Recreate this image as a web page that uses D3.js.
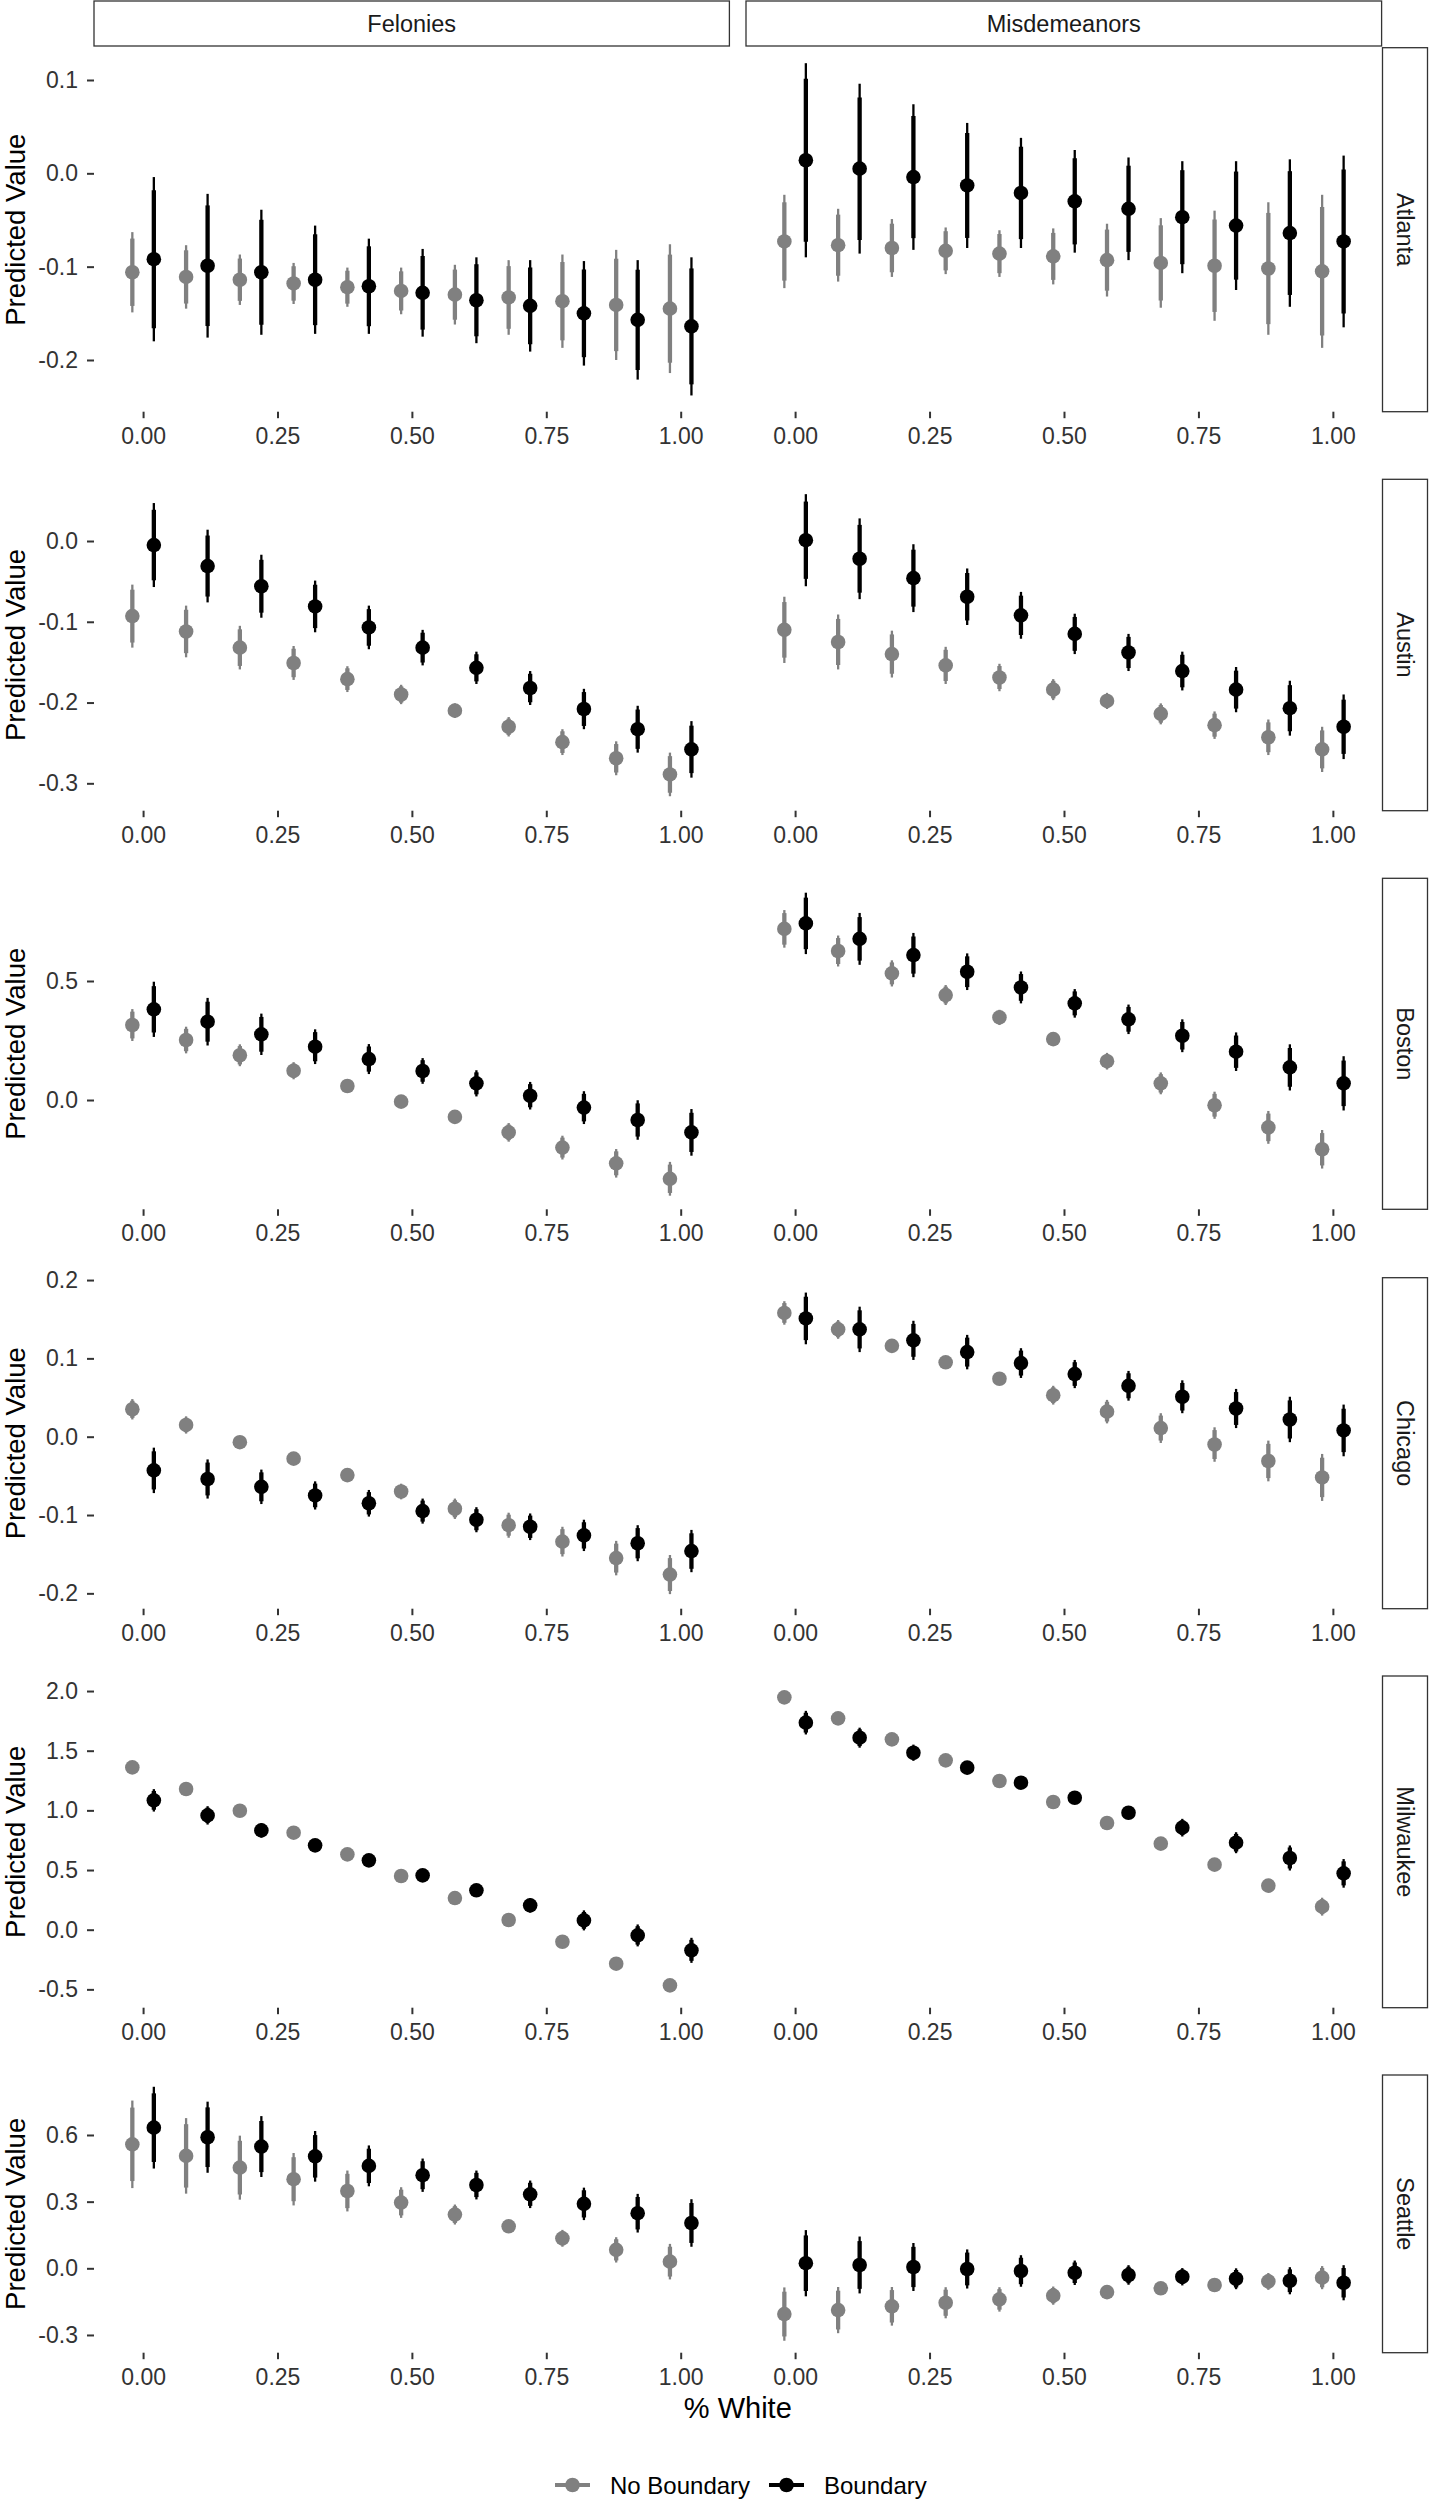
<!DOCTYPE html>
<html>
<head>
<meta charset="utf-8">
<script src="https://cdn.jsdelivr.net/npm/d3@7"></script>
<style>
  body { margin: 0; background: #fff; }
</style>
</head>
<body>
<svg id="chart"></svg>
<script>
// kategorije
const cities = ["Atlanta", "Austin", "Boston", "Chicago", "Milwaukee", "Seattle"];
const crimeTypes = ["Felonies", "Misdemeanors"];
const groups = ["No Boundary", "Boundary"];
const pctWhite = [0, 0.1, 0.2, 0.3, 0.4, 0.5, 0.6, 0.7, 0.8, 0.9, 1.0];
const xTicks = [0, 0.25, 0.5, 0.75, 1];

// y tick vrednosti po gradu
const atlTicks = [-0.2, -0.1, 0.0, 0.1];
const ausTicks = [-0.3, -0.2, -0.1, 0.0];
const bosTicks = [0.0, 0.5];
const chiTicks = [-0.2, -0.1, 0.0, 0.1, 0.2];
const milTicks = [-0.5, 0.0, 0.5, 1.0, 1.5, 2.0];
const seaTicks = [-0.3, 0.0, 0.3, 0.6];

// [estimate, 95% half-width]
const atlFelNo = [[-0.106,0.043],[-0.111,0.034],[-0.114,0.027],[-0.118,0.022],[-0.122,0.021],[-0.126,0.025],[-0.130,0.032],[-0.133,0.040],[-0.137,0.050],[-0.141,0.059],[-0.145,0.069]];
const atlFelBd = [[-0.092,0.088],[-0.099,0.077],[-0.106,0.067],[-0.114,0.058],[-0.121,0.051],[-0.128,0.047],[-0.136,0.046],[-0.142,0.049],[-0.150,0.056],[-0.157,0.064],[-0.164,0.074]];
const atlMisNo = [[-0.073,0.050],[-0.077,0.039],[-0.080,0.031],[-0.083,0.025],[-0.086,0.025],[-0.089,0.030],[-0.093,0.039],[-0.096,0.048],[-0.099,0.059],[-0.102,0.071],[-0.105,0.082]];
const atlMisBd = [[0.014,0.104],[0.005,0.091],[-0.004,0.078],[-0.013,0.067],[-0.021,0.059],[-0.030,0.055],[-0.038,0.055],[-0.047,0.060],[-0.056,0.069],[-0.064,0.079],[-0.073,0.092]];

const ausFelNo = [[-0.093,0.039],[-0.112,0.032],[-0.132,0.027],[-0.151,0.021],[-0.171,0.016],[-0.190,0.012],[-0.210,0.009],[-0.230,0.012],[-0.249,0.016],[-0.269,0.021],[-0.289,0.027]];
const ausFelBd = [[-0.005,0.052],[-0.031,0.045],[-0.056,0.039],[-0.081,0.032],[-0.107,0.027],[-0.132,0.022],[-0.157,0.020],[-0.182,0.021],[-0.208,0.025],[-0.233,0.029],[-0.258,0.035]];
const ausMisNo = [[-0.110,0.041],[-0.125,0.034],[-0.140,0.029],[-0.154,0.023],[-0.169,0.017],[-0.184,0.013],[-0.198,0.010],[-0.214,0.013],[-0.228,0.017],[-0.243,0.022],[-0.258,0.028]];
const ausMisBd = [[0.001,0.057],[-0.022,0.050],[-0.046,0.042],[-0.069,0.035],[-0.092,0.029],[-0.115,0.025],[-0.138,0.023],[-0.161,0.024],[-0.184,0.028],[-0.207,0.034],[-0.230,0.040]];

const bosFelNo = [[0.315,0.067],[0.252,0.056],[0.188,0.046],[0.123,0.036],[0.059,0.012],[-0.007,0.010],[-0.071,0.026],[-0.136,0.039],[-0.200,0.050],[-0.266,0.060],[-0.331,0.071]];
const bosFelBd = [[0.381,0.116],[0.329,0.100],[0.276,0.087],[0.224,0.073],[0.172,0.063],[0.122,0.054],[0.070,0.055],[0.018,0.058],[-0.032,0.069],[-0.084,0.083],[-0.136,0.098]];
const bosMisNo = [[0.719,0.079],[0.626,0.065],[0.532,0.055],[0.441,0.042],[0.347,0.032],[0.256,0.012],[0.163,0.035],[0.070,0.046],[-0.022,0.057],[-0.115,0.069],[-0.207,0.081]];
const bosMisBd = [[0.742,0.129],[0.677,0.109],[0.609,0.093],[0.539,0.077],[0.473,0.067],[0.406,0.060],[0.339,0.062],[0.270,0.069],[0.203,0.081],[0.137,0.097],[0.070,0.114]];

const chiFelNo = [[0.035,0.013],[0.015,0.011],[-0.007,0.007],[-0.028,0.007],[-0.049,0.007],[-0.070,0.010],[-0.092,0.013],[-0.113,0.016],[-0.134,0.019],[-0.155,0.022],[-0.176,0.025]];
const chiFelBd = [[-0.043,0.029],[-0.054,0.025],[-0.064,0.022],[-0.075,0.018],[-0.085,0.017],[-0.095,0.016],[-0.106,0.016],[-0.115,0.017],[-0.126,0.020],[-0.136,0.023],[-0.146,0.027]];
const chiMisNo = [[0.158,0.015],[0.137,0.012],[0.116,0.008],[0.095,0.007],[0.074,0.008],[0.053,0.012],[0.032,0.015],[0.011,0.019],[-0.010,0.022],[-0.031,0.026],[-0.052,0.030]];
const chiMisBd = [[0.151,0.033],[0.137,0.029],[0.123,0.025],[0.108,0.022],[0.094,0.019],[0.080,0.018],[0.065,0.019],[0.051,0.021],[0.036,0.025],[0.022,0.029],[0.008,0.033]];

const milFelNo = [[1.360,0.025],[1.179,0.022],[0.997,0.020],[0.813,0.018],[0.631,0.018],[0.450,0.018],[0.265,0.018],[0.081,0.020],[-0.101,0.022],[-0.285,0.025],[-0.467,0.028]];
const milFelBd = [[1.084,0.094],[0.958,0.077],[0.832,0.060],[0.707,0.050],[0.581,0.048],[0.455,0.048],[0.330,0.052],[0.204,0.060],[0.078,0.084],[-0.048,0.092],[-0.173,0.105]];
const milMisNo = [[1.947,0.030],[1.771,0.026],[1.595,0.024],[1.419,0.022],[1.246,0.022],[1.070,0.022],[0.894,0.024],[0.721,0.028],[0.545,0.034],[0.369,0.045],[0.193,0.075]];
const milMisBd = [[1.735,0.099],[1.609,0.084],[1.483,0.068],[1.358,0.055],[1.232,0.050],[1.106,0.050],[0.980,0.054],[0.855,0.074],[0.729,0.088],[0.601,0.105],[0.472,0.120]];

const seaFelNo = [[0.558,0.197],[0.506,0.170],[0.453,0.144],[0.401,0.118],[0.348,0.092],[0.296,0.069],[0.242,0.045],[0.189,0.022],[0.135,0.038],[0.083,0.057],[0.030,0.080]];
const seaFelBd = [[0.633,0.184],[0.590,0.160],[0.548,0.137],[0.504,0.114],[0.461,0.092],[0.419,0.075],[0.375,0.065],[0.333,0.062],[0.290,0.073],[0.248,0.087],[0.204,0.107]];
const seaMisNo = [[-0.206,0.120],[-0.188,0.104],[-0.171,0.087],[-0.155,0.070],[-0.140,0.055],[-0.123,0.041],[-0.107,0.020],[-0.090,0.020],[-0.075,0.020],[-0.059,0.038],[-0.042,0.052]];
const seaMisBd = [[0.023,0.149],[0.015,0.128],[0.006,0.108],[-0.003,0.088],[-0.012,0.071],[-0.020,0.055],[-0.030,0.044],[-0.038,0.039],[-0.047,0.047],[-0.056,0.061],[-0.065,0.079]];

// po redovima: [felonies [no, bd], misdemeanors [no, bd]]
const rowSeries = [
  [[atlFelNo, atlFelBd], [atlMisNo, atlMisBd]],
  [[ausFelNo, ausFelBd], [ausMisNo, ausMisBd]],
  [[bosFelNo, bosFelBd], [bosMisNo, bosMisBd]],
  [[chiFelNo, chiFelBd], [chiMisNo, chiMisBd]],
  [[milFelNo, milFelBd], [milMisNo, milMisBd]],
  [[seaFelNo, seaFelBd], [seaMisNo, seaMisBd]]
];
const rowTicks = [atlTicks, ausTicks, bosTicks, chiTicks, milTicks, seaTicks];

// raspored panela
var width = 1429, height = 2500;
var colX = [[94, 729.4], [746, 1381.6]];
var rowTop = [47.7, 479.3, 878.3, 1277.7, 1676, 2075];
var rowBottom = [411.7, 810.7, 1209.3, 1608.7, 2007.7, 2352.7];
var rowDomain = [[-0.2554, 0.1346], [-0.3339, 0.0764], [-0.4592, 0.9315],
                 [-0.2196, 0.2030], [-0.6537, 2.126], [-0.3798, 0.870]];
var xDomain = [-0.0913, 1.0906];
var dodge = 0.02;
var colors = ["#808080", "#000000"];
var innerRatio = 1.645 / 1.96; // 90% interval inside the 95% one
var font = "'Liberation Sans', Arial, sans-serif";
var textCol = "#333333";

var svg = d3.select("#chart")
    .attr("width", width)
    .attr("height", height)
    .style("font-family", font);

svg.append("rect").attr("width", width).attr("height", height).attr("fill", "#fff");

// gornji stripovi
crimeTypes.forEach(function(t, c) {
  svg.append("rect")
      .attr("x", colX[c][0]).attr("y", 1)
      .attr("width", colX[c][1] - colX[c][0]).attr("height", 45)
      .attr("fill", "#fff").attr("stroke", "#333").attr("stroke-width", 1.3);
  svg.append("text")
      .attr("x", (colX[c][0] + colX[c][1]) / 2).attr("y", 23.5)
      .attr("dy", "0.36em")
      .attr("text-anchor", "middle")
      .attr("font-size", 23.5)
      .attr("fill", "#1a1a1a")
      .text(t);
});

cities.forEach(function(city, r) {
  var y = d3.scaleLinear().domain(rowDomain[r]).range([rowBottom[r], rowTop[r]]);

  // y osa
  var yAxis = svg.append("g")
      .attr("transform", "translate(" + colX[0][0] + ",0)")
      .call(d3.axisLeft(y).tickValues(rowTicks[r]).tickSize(7).tickPadding(9)
        .tickFormat(function(d) { return d.toFixed(1); }));
  yAxis.select(".domain").remove();
  yAxis.selectAll("line").attr("stroke", textCol).attr("stroke-width", 2);
  yAxis.selectAll("text").attr("font-size", 23).attr("font-family", font).attr("fill", textCol);

  svg.append("text")
      .attr("transform", "translate(25," + (rowTop[r] + rowBottom[r]) / 2 + ") rotate(-90)")
      .attr("text-anchor", "middle")
      .attr("font-size", 27.5)
      .attr("fill", "#000")
      .text("Predicted Value");

  crimeTypes.forEach(function(t, c) {
    var x = d3.scaleLinear().domain(xDomain).range(colX[c]);

    var xAxis = svg.append("g")
        .attr("transform", "translate(0," + rowBottom[r] + ")")
        .call(d3.axisBottom(x).tickValues(xTicks).tickSize(6.5).tickPadding(9.2)
          .tickFormat(function(d) { return d.toFixed(2); }));
    xAxis.select(".domain").remove();
    xAxis.selectAll("line").attr("stroke", textCol).attr("stroke-width", 2);
    xAxis.selectAll("text").attr("font-size", 23).attr("font-family", font).attr("fill", textCol);

    var panel = svg.append("g").attr("class", "panel");

    groups.forEach(function(gName, gi) {
      var vals = rowSeries[r][c][gi];
      var off = gi === 0 ? -dodge : dodge;
      var grp = panel.append("g").attr("class", "series");
      var pts = grp.selectAll(".pt")
          .data(vals.map(function(v, i) { return { x: pctWhite[i] + off, est: v[0], hw: v[1] }; }))
          .enter().append("g").attr("class", "pt");

      pts.append("line")
          .attr("x1", function(d) { return x(d.x); })
          .attr("x2", function(d) { return x(d.x); })
          .attr("y1", function(d) { return y(d.est - d.hw); })
          .attr("y2", function(d) { return y(d.est + d.hw); })
          .attr("stroke", colors[gi]).attr("stroke-width", 2.3);

      pts.append("line")
          .attr("x1", function(d) { return x(d.x); })
          .attr("x2", function(d) { return x(d.x); })
          .attr("y1", function(d) { return y(d.est - d.hw * innerRatio); })
          .attr("y2", function(d) { return y(d.est + d.hw * innerRatio); })
          .attr("stroke", colors[gi]).attr("stroke-width", 4.3);

      pts.append("circle")
          .attr("cx", function(d) { return x(d.x); })
          .attr("cy", function(d) { return y(d.est); })
          .attr("r", 7.3)
          .attr("fill", colors[gi]);
    });
  });

  // desni strip sa imenom grada
  svg.append("rect")
      .attr("x", 1382.5).attr("y", rowTop[r])
      .attr("width", 45).attr("height", rowBottom[r] - rowTop[r])
      .attr("fill", "#fff").attr("stroke", "#333").attr("stroke-width", 1.3);
  svg.append("text")
      .attr("transform", "translate(1405," + (rowTop[r] + rowBottom[r]) / 2 + ") rotate(90)")
      .attr("dy", "0.36em")
      .attr("text-anchor", "middle")
      .attr("font-size", 23.5)
      .attr("fill", "#1a1a1a")
      .text(city);
});

// naslov x ose
svg.append("text")
    .attr("x", (colX[0][0] + colX[1][1]) / 2).attr("y", 2418)
    .attr("text-anchor", "middle")
    .attr("font-size", 29)
    .attr("fill", "#000")
    .text("% White");

// legenda
var legend = svg.append("g").attr("class", "legend");
var legendX = [555, 769];
groups.forEach(function(gName, gi) {
  var lx = legendX[gi];
  legend.append("line")
      .attr("x1", lx).attr("x2", lx + 35)
      .attr("y1", 2485).attr("y2", 2485)
      .attr("stroke", colors[gi]).attr("stroke-width", 4);
  legend.append("circle")
      .attr("cx", lx + 17.5).attr("cy", 2485).attr("r", 7.3)
      .attr("fill", colors[gi]);
  legend.append("text")
      .attr("x", lx + 55).attr("y", 2485)
      .attr("dy", "0.36em")
      .attr("font-size", 24)
      .attr("fill", "#000")
      .text(gName);
});
</script>
</body>
</html>
